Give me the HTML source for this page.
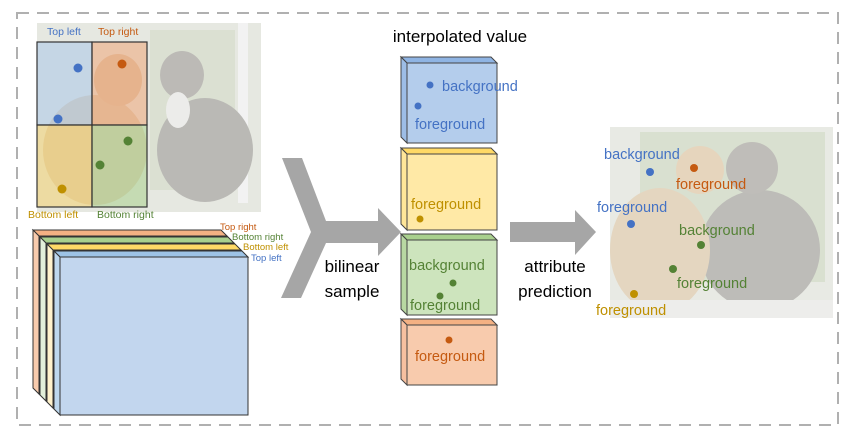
<!DOCTYPE html>
<html><head><meta charset="utf-8"><style>
html,body{margin:0;padding:0;background:#fff}
svg{display:block}
text{font-family:"Liberation Sans",sans-serif}
</style></head><body>
<svg width="852" height="438" viewBox="0 0 852 438" xmlns="http://www.w3.org/2000/svg">
<rect x="17" y="13" width="821" height="412" fill="none" stroke="#b0b0b0" stroke-width="2" stroke-dasharray="12,8"/>

<!-- left photo -->
<rect x="37" y="23" width="224" height="189" fill="#e6e8e1"/>
<rect x="238" y="23" width="10" height="180" fill="#f2f2f2"/>
<rect x="150" y="30" width="85" height="160" fill="#dbe0d2"/>
<ellipse cx="205" cy="150" rx="48" ry="52" fill="#bab9b5"/>
<ellipse cx="182" cy="75" rx="22" ry="24" fill="#bcbab6"/>
<ellipse cx="178" cy="110" rx="12" ry="18" fill="#ececea"/>
<ellipse cx="95" cy="150" rx="52" ry="55" fill="#dccdb2"/>
<ellipse cx="118" cy="80" rx="24" ry="26" fill="#dcc6aa"/>
<g stroke="#333" stroke-width="1.2">
<rect x="37" y="42" width="55" height="83" fill="#a9c6ea" fill-opacity="0.55"/>
<rect x="92" y="42" width="55" height="83" fill="#efa070" fill-opacity="0.5"/>
<rect x="37" y="125" width="55" height="82" fill="#f3d070" fill-opacity="0.55"/>
<rect x="92" y="125" width="55" height="82" fill="#a9d08e" fill-opacity="0.55"/>
</g>
<g font-size="10.5">
<text x="47" y="35" fill="#4472c4">Top left</text>
<text x="98" y="35" fill="#c55a11">Top right</text>
<text x="28" y="218" fill="#bf9000">Bottom left</text>
<text x="97" y="218" fill="#548235">Bottom right</text>
</g>
<circle cx="78" cy="68" r="4.5" fill="#4472c4"/>
<circle cx="58" cy="119" r="4.5" fill="#4472c4"/>
<circle cx="122" cy="64" r="4.5" fill="#c55a11"/>
<circle cx="128" cy="141" r="4.5" fill="#548235"/>
<circle cx="100" cy="165" r="4.5" fill="#548235"/>
<circle cx="62" cy="189" r="4.5" fill="#bf9000"/>

<!-- left stack -->
<g stroke="#333" stroke-width="1">
<g><polygon points="33,230 221,230 227,236 39,236" fill="#f4b183"/><polygon points="33,230 39,236 39,394 33,388" fill="#f8cbad"/><rect x="39" y="236" width="188" height="158" fill="#f8cbad"/></g>
<g><polygon points="40,237 228,237 234,243 46,243" fill="#a9d08e"/><polygon points="40,237 46,243 46,401 40,395" fill="#e2efda"/><rect x="46" y="243" width="188" height="158" fill="#e2efda"/></g>
<g><polygon points="47,244 235,244 241,250 53,250" fill="#ffd966"/><polygon points="47,244 53,250 53,408 47,402" fill="#fff2cc"/><rect x="53" y="250" width="188" height="158" fill="#fff2cc"/></g>
<g><polygon points="54,251 242,251 248,257 60,257" fill="#9dc3e6"/><polygon points="54,251 60,257 60,415 54,409" fill="#bdd7ee"/><rect x="60" y="257" width="188" height="158" fill="#c2d6ee"/></g>
</g>
<g font-size="9.5">
<text x="220" y="230" fill="#c55a11">Top right</text>
<text x="232" y="240" fill="#548235">Bottom right</text>
<text x="243" y="250" fill="#bf9000">Bottom left</text>
<text x="251" y="261" fill="#4472c4">Top left</text>
</g>

<!-- fork arrow -->
<polygon points="282,158 302,158 326,221 378,221 378,208 401,232 378,256 378,243 326,243 301,298 281,298 311,232" fill="#a6a6a6"/>
<text x="352" y="272" font-size="17" text-anchor="middle">bilinear</text>
<text x="352" y="297" font-size="17" text-anchor="middle">sample</text>
<text x="460" y="42" font-size="17" text-anchor="middle">interpolated value</text>

<!-- middle boxes -->
<g stroke="#444" stroke-width="1">
<polygon points="401,57 491,57 497,63 407,63" fill="#8fb4e3"/><polygon points="401,57 407,63 407,143 401,137" fill="#9dbde6"/><rect x="407" y="63" width="90" height="80" fill="#b4cdec"/>
<polygon points="401,148 491,148 497,154 407,154" fill="#ffd966"/><polygon points="401,148 407,154 407,230 401,224" fill="#ffe699"/><rect x="407" y="154" width="90" height="76" fill="#ffe9a6"/>
<polygon points="401,234 491,234 497,240 407,240" fill="#a9d08e"/><polygon points="401,234 407,240 407,315 401,309" fill="#b8d8a2"/><rect x="407" y="240" width="90" height="75" fill="#cde4bd"/>
<polygon points="401,319 491,319 497,325 407,325" fill="#f4b183"/><polygon points="401,319 407,325 407,385 401,379" fill="#f6c0a0"/><rect x="407" y="325" width="90" height="60" fill="#f8cbad"/>
</g>
<g font-size="14.5">
<circle cx="430" cy="85" r="3.5" fill="#4472c4"/><text x="442" y="91" fill="#4472c4">background</text>
<circle cx="418" cy="106" r="3.5" fill="#4472c4"/><text x="415" y="129" fill="#4472c4">foreground</text>
<text x="411" y="209" fill="#bf9000">foreground</text><circle cx="420" cy="219" r="3.5" fill="#bf9000"/>
<text x="409" y="270" fill="#548235">background</text><circle cx="453" cy="283" r="3.5" fill="#548235"/><circle cx="440" cy="296" r="3.5" fill="#548235"/><text x="410" y="310" fill="#548235">foreground</text>
<circle cx="449" cy="340" r="3.5" fill="#c55a11"/><text x="415" y="361" fill="#c55a11">foreground</text>
</g>

<!-- right arrow -->
<polygon points="510,222 575,222 575,210 596,232 575,255 575,242 510,242" fill="#a6a6a6"/>
<text x="555" y="272" font-size="17" text-anchor="middle">attribute</text>
<text x="555" y="297" font-size="17" text-anchor="middle">prediction</text>

<!-- right photo -->
<rect x="610" y="127" width="223" height="191" fill="#e8eae4"/>
<rect x="640" y="132" width="185" height="150" fill="#d9e0d0"/>
<ellipse cx="760" cy="250" rx="60" ry="60" fill="#bdbcb8"/>
<ellipse cx="752" cy="168" rx="26" ry="26" fill="#bfbdb9"/>
<ellipse cx="660" cy="250" rx="50" ry="62" fill="#e4d6c0"/>
<ellipse cx="700" cy="170" rx="24" ry="24" fill="#e6d5bd"/>
<rect x="610" y="300" width="223" height="18" fill="#ededeb"/>
<g font-size="14.5">
<text x="604" y="159" fill="#4472c4">background</text>
<circle cx="650" cy="172" r="4" fill="#4472c4"/>
<circle cx="694" cy="168" r="4" fill="#c55a11"/>
<text x="676" y="189" fill="#c55a11">foreground</text>
<text x="597" y="212" fill="#4472c4">foreground</text>
<circle cx="631" cy="224" r="4" fill="#4472c4"/>
<text x="679" y="235" fill="#548235">background</text>
<circle cx="701" cy="245" r="4" fill="#548235"/>
<circle cx="673" cy="269" r="4" fill="#548235"/>
<text x="677" y="288" fill="#548235">foreground</text>
<circle cx="634" cy="294" r="4" fill="#bf9000"/>
<text x="596" y="315" fill="#bf9000">foreground</text>
</g>
</svg>
</body></html>
